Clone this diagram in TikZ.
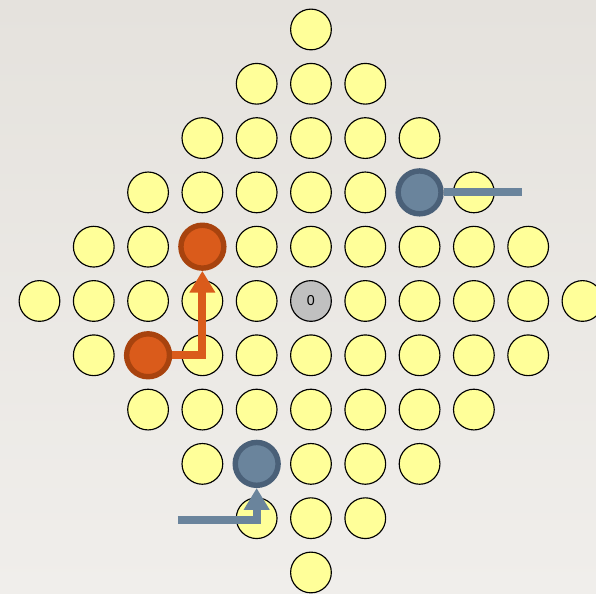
\documentclass[tikz,border=0pt]{standalone}
\usepackage{fontspec}
\setmainfont{Liberation Sans}
\usetikzlibrary{arrows.meta}
\definecolor{holeyellow}{HTML}{FFFF99}
\definecolor{centergray}{HTML}{C0C0C0}
\definecolor{redfill}{HTML}{DA5B1B}
\definecolor{redring}{HTML}{A8430E}
\definecolor{bluefill}{HTML}{6A849C}
\definecolor{bluering}{HTML}{4A6078}
\definecolor{bgtop}{HTML}{E5E2DD}
\definecolor{bgbottom}{HTML}{F0EEEB}
\tikzset{
  hole/.style={circle, draw=black, line width=0.6pt, fill=holeyellow, inner sep=0pt, minimum size=0.75cm, font=\fontsize{7.5}{8}\selectfont},
  redpeg/.style={circle, draw=redring, line width=0.1cm, fill=redfill, inner sep=0pt, minimum size=0.79cm},
  bluepeg/.style={circle, draw=bluering, line width=0.1cm, fill=bluefill, inner sep=0pt, minimum size=0.79cm},
  redmove/.style={draw=redfill, line width=0.15cm, miter limit=10, -{Triangle[width=0.45cm, length=0.4cm]}},
  bluemove/.style={draw=bluefill, line width=0.15cm, miter limit=10},
}
\begin{document}
\begin{tikzpicture}
  \clip (-5.727,-5.378) rectangle (5.249,5.543);
  \shade[top color=bgtop, bottom color=bgbottom] (-5.727,-5.378) rectangle (5.249,5.543);
  % board
  \foreach \x in {-5,...,5} {
    \foreach \y in {-5,...,5} {
      \pgfmathtruncatemacro{\dist}{abs(\x)+abs(\y)}
      \pgfmathtruncatemacro{\isred}{(\x==-2 && \y==1) || (\x==-3 && \y==-1)}
      \pgfmathtruncatemacro{\isblue}{(\x==2 && \y==2) || (\x==-1 && \y==-3)}
      \ifnum\dist<6
        \ifnum\dist=0
          \node[hole, fill=centergray] (p\x_\y) at (\x,\y) {0};
        \else\ifnum\isred=1
          \node[redpeg] (p\x_\y) at (\x,\y) {};
        \else\ifnum\isblue=1
          \node[bluepeg] (p\x_\y) at (\x,\y) {};
        \else
          \node[hole] (p\x_\y) at (\x,\y) {};
        \fi\fi\fi
      \fi
    }
  }
  % moves
  \coordinate (blueend) at (3.89,2);
  \coordinate (bluestart) at (-2.45,-4.03);
  \draw[redmove] (p-3_-1.east) -| (p-2_1.south);
  \draw[bluemove] (p2_2.east) -- (blueend);
  \draw[bluemove, -{Triangle[width=0.45cm, length=0.4cm]}] (bluestart) -| (p-1_-3.south);
\end{tikzpicture}
\end{document}
